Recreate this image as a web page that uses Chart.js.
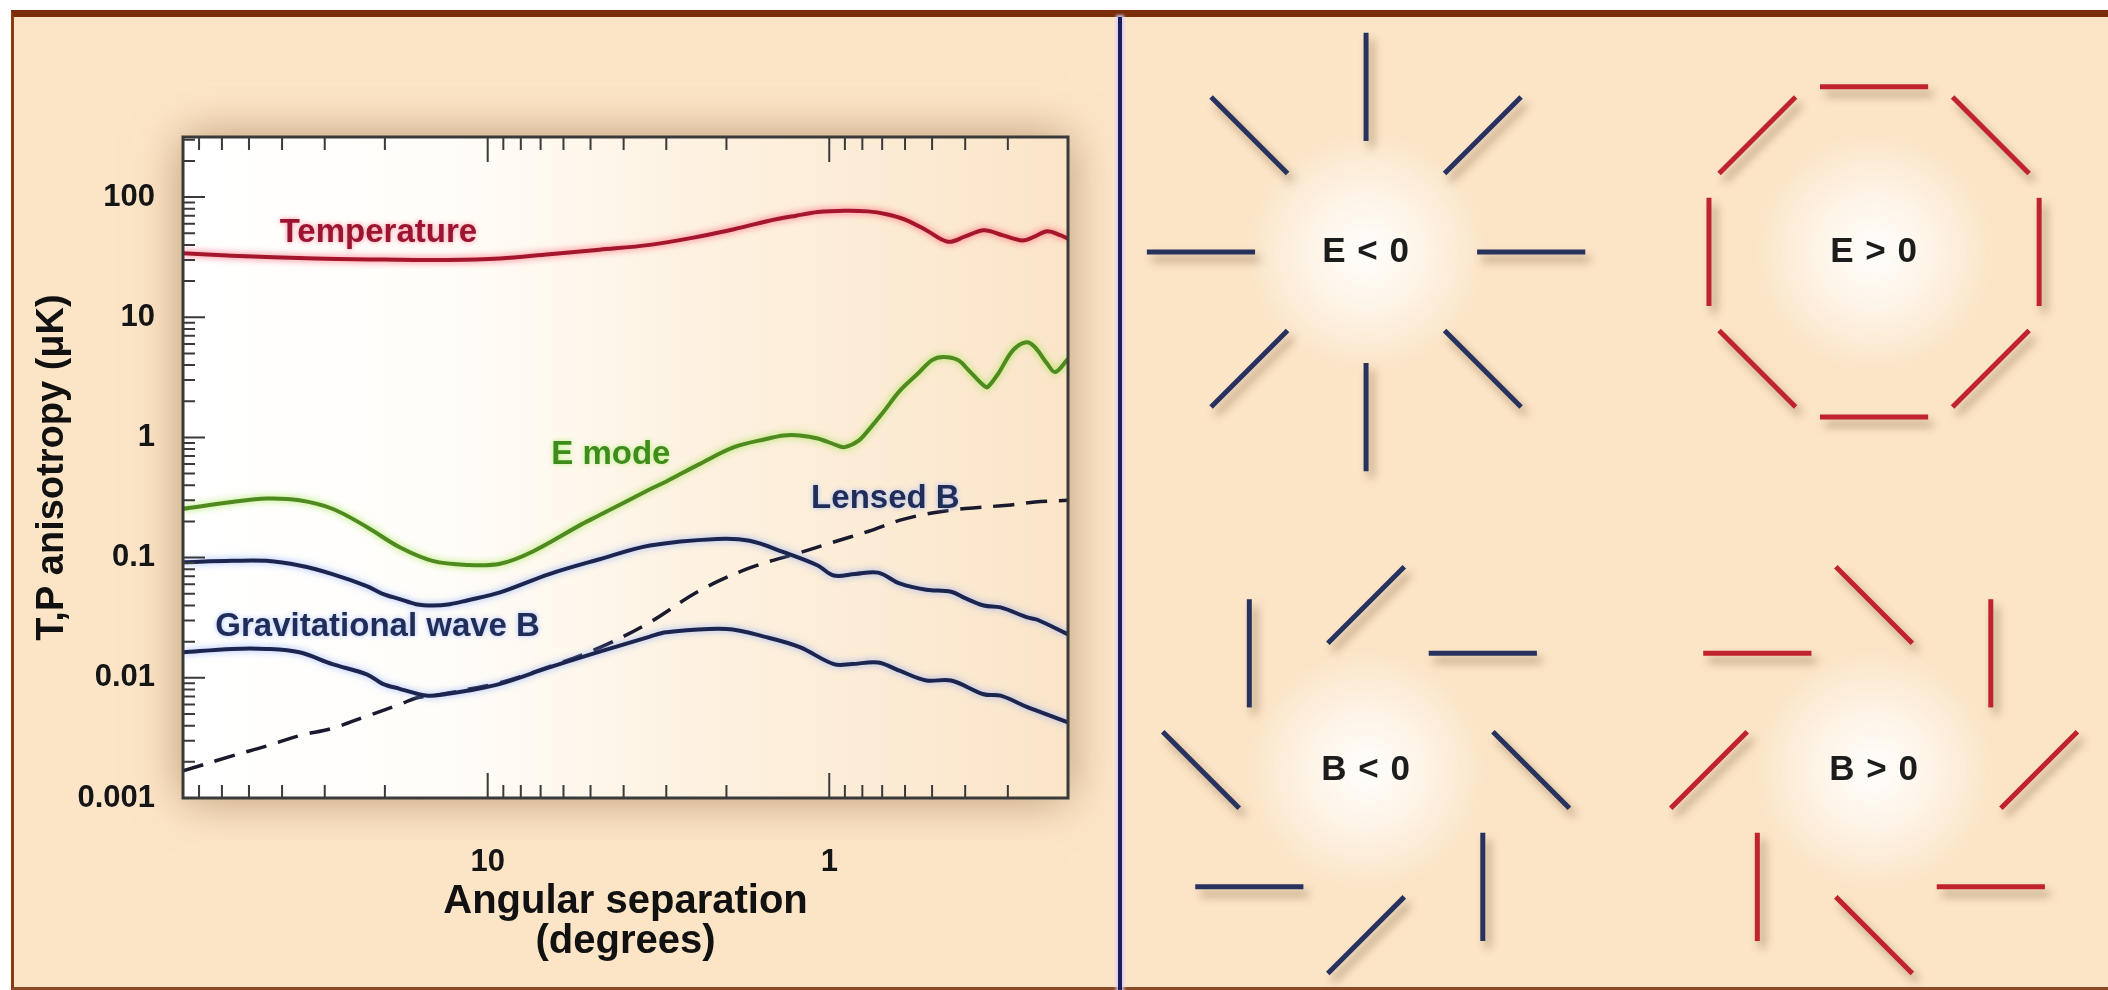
<!DOCTYPE html>
<html>
<head>
<meta charset="utf-8">
<title>CMB temperature and polarization anisotropy</title>
<script src="https://cdn.jsdelivr.net/npm/chart.js@4.4.1/dist/chart.umd.min.js"></script>
<style>
  html, body { margin: 0; padding: 0; background: #ffffff; }
  body { width: 2108px; height: 990px; position: relative; overflow: hidden; }
  #sheet {
    position: absolute; left: 11px; top: 10px; right: 0; bottom: 0;
    background: #fce5c7;
    border-top: 7px solid #7a2c0b;
    border-left: 3px solid #8b3a15;
    border-bottom: 3px solid #8b4a25;
  }
  #divider {
    position: absolute; left: 1118px; top: 17px; width: 4px; height: 973px;
    background: #1f1c5e; box-shadow: 0 0 3px 2px rgba(210, 205, 255, 0.9);
  }
  #plot { position: absolute; left: 0; top: 0; }
  #patterns { position: absolute; left: 1124px; top: 0; }
</style>
</head>
<body>
<div id="sheet"></div>
<div id="divider"></div>
<canvas id="plot" width="1112" height="990"></canvas>
<canvas id="patterns" width="984" height="990"></canvas>
<script>
// ---------- axis ranges and tick labels ----------
const thetaRange = [0.2, 78];        // angular separation, degrees (drawn large -> small)
const valueRange = [0.001, 316];     // anisotropy, microkelvin

const xTickValues = [10, 1];
const xTickText   = ['10', '1'];
const yTickValues = [100, 10, 1, 0.1, 0.01, 0.001];
const yTickText   = ['100', '10', '1', '0.1', '0.01', '0.001'];

// ---------- spectra ----------
const tempDeg = [78, 56, 32, 20, 13, 9.2, 6.6, 4.7, 3.35, 2.4, 1.9, 1.52, 1.25, 1.08, 0.9, 0.77, 0.68, 0.6, 0.52, 0.45, 0.4, 0.353, 0.31, 0.272, 0.25, 0.23, 0.21, 0.2];
const tempVal = [34, 32.5, 30.8, 30.2, 29.9, 30.8, 33.5, 36.5, 40, 47, 54, 63, 70, 75, 77, 76, 72, 65, 53, 42.5, 47, 53, 48, 43.5, 47, 52, 48, 45];

const eDeg = [78, 56, 44.5, 35.6, 28.5, 22.6, 18.1, 14.5, 11.5, 9.2, 7.4, 5.3, 4.7, 3.35, 3.0, 2.4, 1.9, 1.52, 1.36, 1.22, 1.08, 0.95, 0.9, 0.82, 0.77, 0.7, 0.62, 0.55, 0.5, 0.463, 0.42, 0.39, 0.353, 0.344, 0.32, 0.29, 0.265, 0.25, 0.23, 0.218, 0.2];
const eVal = [0.255, 0.29, 0.31, 0.30, 0.255, 0.18, 0.122, 0.094, 0.087, 0.089, 0.112, 0.19, 0.226, 0.37, 0.43, 0.6, 0.83, 0.975, 1.04, 1.04, 0.98, 0.86, 0.83, 0.94, 1.14, 1.58, 2.46, 3.4, 4.4, 4.67, 4.4, 3.6, 2.7, 2.62, 3.4, 5.3, 6.2, 5.65, 4.1, 3.5, 4.5];

const gwHiDeg = [78, 56, 44.5, 35.6, 28.5, 22.6, 20.3, 18.1, 16.2, 14.5, 12.9, 11.5, 9.2, 6.6, 4.7, 3.35, 2.13, 1.71, 1.36, 1.08, 0.97, 0.84, 0.72, 0.62, 0.52, 0.44, 0.4, 0.353, 0.315, 0.263, 0.246, 0.2];
const gwHiVal = [0.0914, 0.094, 0.094, 0.086, 0.073, 0.058, 0.05, 0.0452, 0.041, 0.040, 0.041, 0.044, 0.0514, 0.073, 0.097, 0.126, 0.143, 0.138, 0.111, 0.086, 0.071, 0.073, 0.075, 0.0607, 0.054, 0.052, 0.046, 0.04, 0.0385, 0.0318, 0.0304, 0.023];

const gwLoDeg = [78, 56, 44.5, 35.6, 28.5, 22.6, 20.3, 18.1, 16.2, 15, 12.9, 11.5, 9.2, 6.6, 4.7, 3.35, 3.0, 2.0, 1.52, 1.22, 0.97, 0.86, 0.72, 0.62, 0.52, 0.44, 0.353, 0.315, 0.263, 0.246, 0.2];
const gwLoVal = [0.0163, 0.0174, 0.0174, 0.0163, 0.013, 0.0107, 0.0089, 0.0081, 0.0074, 0.0071, 0.0074, 0.0078, 0.0089, 0.0122, 0.0165, 0.022, 0.0239, 0.0255, 0.0217, 0.018, 0.013, 0.013, 0.0134, 0.0114, 0.0095, 0.0095, 0.0073, 0.0071, 0.0057, 0.0053, 0.00425];

const lensDeg = [78, 56, 44.5, 35.6, 28.5, 22.6, 18.1, 16.2, 14.5, 12.9, 11.5, 9.2, 6.6, 4.7, 3.35, 2.4, 1.71, 1.22, 0.97, 0.77, 0.62, 0.5, 0.4, 0.3, 0.25, 0.2];
const lensVal = [0.00168, 0.00224, 0.0027, 0.0033, 0.0038, 0.0048, 0.006, 0.0068, 0.0071, 0.0075, 0.008, 0.0091, 0.0124, 0.0178, 0.029, 0.053, 0.082, 0.11, 0.135, 0.165, 0.205, 0.235, 0.256, 0.273, 0.29, 0.30];

// curve captions, anchored in data coordinates (degrees, microkelvin)
const curveLabelText = ['Temperature', 'E mode', 'Lensed B', 'Gravitational wave B'];
const curveLabelDeg  = [20.9, 4.36, 0.685, 21];
const curveLabelVal  = [50, 0.72, 0.31, 0.0265];

// ---------- polarization patterns ----------
const patternNames = ['E < 0', 'E > 0', 'B < 0', 'B > 0'];
const patternCol   = [-1, 1, -1, 1];
const patternRow   = [1.02, 1.02, -1.02, -1.02];
const patternTwist = [0, 90, -45, 45];      // stick angle relative to the radial direction
const stickAngles  = [0, 45, 90, 135, 180, 225, 270, 315];
const stickRadius  = 0.65;
const stickHalf    = 0.213;

// ---------- helpers ----------
const FONT = '"Liberation Sans", Arial, Helvetica, sans-serif';
const pts = (xs, ys) => xs.map((x, i) => ({ x: x, y: ys[i] }));
const isDecade = v => { const l = Math.log10(v); return Math.abs(l - Math.round(l)) < 1e-6; };
function labelFor(v, vals, texts) {
  for (let i = 0; i < vals.length; i++) if (Math.abs(v / vals[i] - 1) < 1e-6) return texts[i];
  return '';
}
function logTicks(min, max) {
  const out = [];
  for (let e = Math.floor(Math.log10(min)); e <= Math.ceil(Math.log10(max)); e++) {
    for (let s = 1; s <= 9; s++) {
      const v = +(s * Math.pow(10, e)).toPrecision(6);
      if (v >= min * 0.9999 && v <= max * 1.0001) out.push({ value: v, major: s === 1 });
    }
  }
  return out;
}

// ---------- spectrum plot ----------
const plotBackdrop = {
  id: 'plotBackdrop',
  beforeDraw(chart) {
    const { ctx, chartArea: a } = chart;
    ctx.save();
    const g = ctx.createLinearGradient(a.left, 0, a.right, 0);
    g.addColorStop(0, '#ffffff');
    g.addColorStop(0.3, '#fffdf9');
    g.addColorStop(0.6, '#fdf1df');
    g.addColorStop(1, '#fbe5c9');
    ctx.shadowColor = 'rgba(130, 85, 40, 0.55)';
    ctx.shadowBlur = 45;
    ctx.fillStyle = g;
    ctx.fillRect(a.left, a.top, a.right - a.left, a.bottom - a.top);
    ctx.restore();
  }
};

const lineGlow = {
  id: 'lineGlow',
  beforeDatasetDraw(chart, args) {
    const ds = chart.data.datasets[args.index];
    chart.ctx.save();
    if (ds.glow) { chart.ctx.shadowColor = ds.glow; chart.ctx.shadowBlur = 7; }
  },
  afterDatasetDraw(chart) { chart.ctx.restore(); }
};

const captionStyle = [
  { color: '#9b1530', glow: 'rgba(255, 120, 140, 0.85)' },
  { color: '#3d8c1c', glow: 'rgba(170, 240, 110, 0.85)' },
  { color: '#1f2d58', glow: 'rgba(150, 180, 255, 0.8)' },
  { color: '#1f2d58', glow: 'rgba(150, 180, 255, 0.8)' }
];
const curveCaptions = {
  id: 'curveCaptions',
  afterDatasetsDraw(chart) {
    const { ctx, scales: { x, y } } = chart;
    ctx.save();
    ctx.font = 'bold 33px ' + FONT;
    ctx.textAlign = 'center';
    ctx.textBaseline = 'middle';
    curveLabelText.forEach((t, i) => {
      ctx.shadowColor = captionStyle[i].glow;
      ctx.shadowBlur = 5;
      ctx.fillStyle = captionStyle[i].color;
      ctx.fillText(t, x.getPixelForValue(curveLabelDeg[i]), y.getPixelForValue(curveLabelVal[i]));
    });
    ctx.restore();
  }
};

const frameTicks = {
  id: 'frameTicks',
  afterDraw(chart) {
    const { ctx, chartArea: a, scales: { x, y } } = chart;
    ctx.save();
    ctx.strokeStyle = '#3a3a3a';
    ctx.lineWidth = 2;
    ctx.beginPath();
    x.ticks.forEach(t => {
      const px = x.getPixelForValue(t.value);
      if (px < a.left + 2 || px > a.right - 2) return;
      const len = isDecade(t.value) ? 25 : 13;
      ctx.moveTo(px, a.bottom); ctx.lineTo(px, a.bottom - len);
      ctx.moveTo(px, a.top); ctx.lineTo(px, a.top + len);
    });
    y.ticks.forEach(t => {
      const py = y.getPixelForValue(t.value);
      if (py < a.top + 2 || py > a.bottom - 2) return;
      const len = isDecade(t.value) ? 22 : 12;
      ctx.moveTo(a.left, py); ctx.lineTo(a.left + len, py);
    });
    ctx.stroke();
    ctx.lineWidth = 3;
    ctx.strokeRect(a.left, a.top, a.right - a.left, a.bottom - a.top);
    ctx.restore();
  }
};

const lineStyle = { pointRadius: 0, borderWidth: 4, tension: 0.35, fill: false };

new Chart(document.getElementById('plot'), {
  type: 'line',
  data: {
    datasets: [
      Object.assign({ label: 'Temperature', data: pts(tempDeg, tempVal), borderColor: '#a3162c', glow: 'rgba(255, 90, 110, 0.95)' }, lineStyle),
      Object.assign({ label: 'E mode', data: pts(eDeg, eVal), borderColor: '#4f8a1f', glow: 'rgba(160, 230, 80, 0.95)' }, lineStyle),
      Object.assign({ label: 'Gravitational wave B (high)', data: pts(gwHiDeg, gwHiVal), borderColor: '#1c2550', glow: 'rgba(120, 160, 255, 0.75)' }, lineStyle),
      Object.assign({ label: 'Gravitational wave B (low)', data: pts(gwLoDeg, gwLoVal), borderColor: '#1c2550', glow: 'rgba(120, 160, 255, 0.75)' }, lineStyle),
      Object.assign({ label: 'Lensed B', data: pts(lensDeg, lensVal), borderColor: '#1a1a2e', borderDash: [21, 12] }, lineStyle, { borderWidth: 3.5 })
    ]
  },
  options: {
    responsive: false,
    animation: false,
    layout: { padding: { top: 137, right: 44, left: 0, bottom: 0 } },
    plugins: { legend: { display: false }, tooltip: { enabled: false } },
    scales: {
      x: {
        type: 'logarithmic', reverse: true, position: 'bottom',
        min: thetaRange[0], max: thetaRange[1],
        grid: { display: false, drawTicks: false }, border: { display: false },
        afterBuildTicks: s => { s.ticks = logTicks(thetaRange[0], thetaRange[1]); },
        afterFit: s => { s.height = 192; },
        ticks: {
          autoSkip: false, maxRotation: 0, padding: 46, color: '#151515',
          font: { family: FONT, size: 31, weight: 'bold' },
          callback: v => labelFor(v, xTickValues, xTickText)
        },
        title: {
          display: true, text: ['Angular separation', '(degrees)'], color: '#111111',
          font: { family: FONT, size: 40, weight: 'bold', lineHeight: 1.0 },
          padding: { top: 0, bottom: 28 }
        }
      },
      y: {
        type: 'logarithmic', position: 'left',
        min: valueRange[0], max: valueRange[1],
        grid: { display: false, drawTicks: false }, border: { display: false },
        afterBuildTicks: s => { s.ticks = logTicks(valueRange[0], valueRange[1]); },
        afterFit: s => { s.width = 183; },
        ticks: {
          autoSkip: false, padding: 28, color: '#151515',
          font: { family: FONT, size: 31, weight: 'bold' },
          callback: v => labelFor(v, yTickValues, yTickText)
        },
        title: {
          display: true, text: 'T,P anisotropy (\u03bcK)', color: '#111111',
          font: { family: FONT, size: 38, weight: 'bold', lineHeight: 1.2 },
          padding: { top: 30, bottom: 0 }
        }
      }
    }
  },
  plugins: [plotBackdrop, lineGlow, curveCaptions, frameTicks]
});

// ---------- E / B pattern panel ----------
const patternColor = ['#27335e', '#c0222e', '#27335e', '#c0222e'];
const stickSets = [];
patternNames.forEach((name, i) => {
  stickAngles.forEach(phi => {
    const p = phi * Math.PI / 180;
    const q = (phi + patternTwist[i]) * Math.PI / 180;
    const mx = patternCol[i] + stickRadius * Math.cos(p);
    const my = patternRow[i] + stickRadius * Math.sin(p);
    stickSets.push({
      label: name,
      data: [
        { x: mx - stickHalf * Math.cos(q), y: my - stickHalf * Math.sin(q) },
        { x: mx + stickHalf * Math.cos(q), y: my + stickHalf * Math.sin(q) }
      ],
      showLine: true, pointRadius: 0, borderWidth: 5,
      borderColor: patternColor[i], borderCapStyle: 'butt'
    });
  });
});

const patternDecor = {
  id: 'patternDecor',
  beforeDatasetsDraw(chart) {
    const { ctx, scales: { x, y } } = chart;
    patternNames.forEach((n, i) => {
      const cx = x.getPixelForValue(patternCol[i]);
      const cy = y.getPixelForValue(patternRow[i]);
      const g = ctx.createRadialGradient(cx, cy, 0, cx, cy, 120);
      g.addColorStop(0, 'rgba(255,255,255,0.95)');
      g.addColorStop(0.45, 'rgba(255,255,255,0.6)');
      g.addColorStop(1, 'rgba(255,255,255,0)');
      ctx.fillStyle = g;
      ctx.fillRect(cx - 120, cy - 120, 240, 240);
    });
    ctx.save();
    ctx.shadowColor = 'rgba(90, 55, 20, 0.45)';
    ctx.shadowBlur = 10;
    ctx.shadowOffsetX = 5;
    ctx.shadowOffsetY = 7;
  },
  afterDatasetsDraw(chart) {
    const { ctx, scales: { x, y } } = chart;
    ctx.restore();
    ctx.save();
    ctx.font = 'bold 35px ' + FONT;
    if ('letterSpacing' in ctx) ctx.letterSpacing = '1px';
    ctx.fillStyle = '#1c1c1c';
    ctx.textAlign = 'center';
    ctx.textBaseline = 'middle';
    patternNames.forEach((n, i) => {
      ctx.fillText(n, x.getPixelForValue(patternCol[i]), y.getPixelForValue(patternRow[i]));
    });
    ctx.restore();
  }
};

new Chart(document.getElementById('patterns'), {
  type: 'scatter',
  data: { datasets: stickSets },
  options: {
    responsive: false,
    animation: false,
    layout: { padding: 0 },
    plugins: { legend: { display: false }, tooltip: { enabled: false } },
    scales: {
      x: { type: 'linear', display: false, min: -1.953, max: 1.921 },
      y: { type: 'linear', display: false, min: -1.886, max: 2.012 }
    }
  },
  plugins: [patternDecor]
});
</script>
</body>
</html>
